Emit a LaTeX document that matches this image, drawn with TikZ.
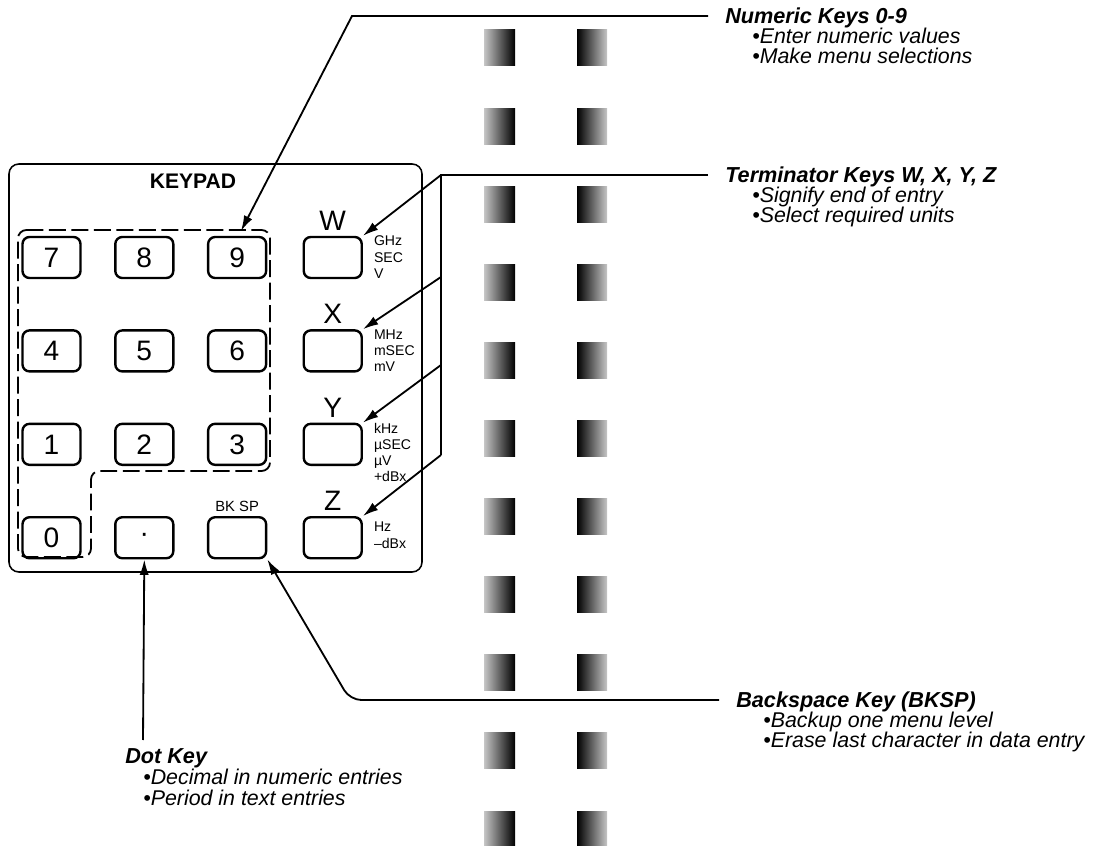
\documentclass[tikz,border=0pt]{standalone}
\usepackage{fontspec}
\setmainfont{Liberation Sans}
\usetikzlibrary{positioning, arrows.meta}

\begin{document}
\begin{tikzpicture}[
  x=0.025cm, y=-0.025cm,
  node distance=1.25cm and 0.81cm,
  keycap/.style={draw, line width=1.7pt, rounded corners=5pt,
    minimum width=1.45cm, minimum height=1.025cm, inner sep=0pt,
    font=\fontsize{20}{20}\selectfont},
  keyletter/.style={inner sep=0pt, font=\fontsize{20}{20}\selectfont},
  unitstext/.style={anchor=north west, align=left, inner sep=0pt,
    font=\fontsize{10}{11.5}\selectfont},
  headtext/.style={anchor=west, inner sep=0pt, text height=11pt, text depth=0pt,
    font=\fontsize{15.4}{15.4}\selectfont\bfseries\itshape},
  bullettext/.style={anchor=west, inner sep=0pt, text height=10.5pt, text depth=0pt,
    font=\fontsize{15.2}{15.2}\selectfont\itshape},
  leader/.style={line width=1.3pt},
  pointer/.style={leader, -{Latex[length=11pt, width=6.5pt]}}
]
\useasboundingbox (0,0) rectangle (1101,846);

% keypad frame
\draw[line width=1.1pt, rounded corners=7pt] (9,164) rectangle (422,572);
\node[inner sep=0pt, font=\fontsize{15}{15}\selectfont\bfseries] (keypadtitle) at (193,181) {KEYPAD};

% keys
\node[keycap] (k7) at (51.5,257.5) {7};
\node[keycap] (k8) [right=of k7] {8};
\node[keycap] (k9) [right=of k8] {9};
\node[keycap] (kW) [right=0.88cm of k9] {};

\node[keycap] (k4) [below=of k7] {4};
\node[keycap] (k5) [below=of k8] {5};
\node[keycap] (k6) [below=of k9] {6};
\node[keycap] (kX) [below=of kW] {};

\node[keycap] (k1) [below=of k4] {1};
\node[keycap] (k2) [below=of k5] {2};
\node[keycap] (k3) [below=of k6] {3};
\node[keycap] (kY) [below=of kX] {};

\node[keycap] (k0) [below=of k1] {0};
\node[keycap] (kdot) [below=of k2] {\textperiodcentered};
\node[keycap] (kbksp) [below=of k3] {};
\node[keycap] (kZ) [below=of kY] {};

\node[inner sep=0pt, font=\fontsize{10.5}{10.5}\selectfont, above=0.1cm of kbksp] (bklabel) {BK SP};

\foreach \k in {W,X,Y,Z}
  \node[keyletter, above=0.13cm of k\k] (l\k) {\k};

\node[unitstext] (uW) at ([xshift=0.27cm]kW.north east) {GHz\\SEC\\V};
\node[unitstext] (uX) at ([xshift=0.27cm]kX.north east) {MHz\\mSEC\\mV};
\node[unitstext] (uY) at ([xshift=0.27cm]kY.north east) {kHz\\µSEC\\µV\\+dBx};
\node[unitstext] (uZ) at ([xshift=0.27cm, yshift=-0.15cm]kZ.north east) {Hz\\–dBx};

% numeric group outline
\draw[line width=1.3pt, dash pattern=on 12pt off 4pt, rounded corners=6pt]
  (18,230) -- (270,230) -- (270,471) -- (91,471) -- (91,557) -- (18,557) -- cycle;

% display blobs
\foreach \i in {0,...,10} {
  \fill[left color=gray!45, right color=black] (484,{30+78.1*\i}) rectangle (515,{66+78.1*\i});
  \fill[left color=black, right color=gray!45] (577,{30+78.1*\i}) rectangle (607,{66+78.1*\i});
}

% numeric keys callout
\node[headtext] (numhead) at (725,16) {Numeric Keys 0-9};
\node[bullettext] (numa) at (752,36) {•Enter numeric values};
\node[bullettext] (numb) at (752,56) {•Make menu selections};
\coordinate (numcorner) at (352,16);
\coordinate (numtip) at (241,231);
\draw[pointer, shorten <=0.42cm] (numhead.west) -- (numcorner) -- (numtip);

% terminator keys callout
\node[headtext] (termhead) at (725,175) {Terminator Keys W, X, Y, Z};
\node[bullettext] (terma) at (752,195) {•Signify end of entry};
\node[bullettext] (termb) at (752,215) {•Select required units};
\coordinate (termcorner) at (441,175);
\foreach \k/\y in {X/277, Y/365, Z/455}
  \coordinate (t\k) at (441,\y);
\draw[leader, shorten <=0.42cm] (termhead.west) -- (termcorner) -- (tZ);
\draw[pointer] (termcorner) -- (kW.north east);
\foreach \k in {X,Y,Z}
  \draw[pointer] (t\k) -- (k\k.north east);

% dot key callout
\coordinate (dotfoot) at (143,740);
\draw[pointer] (dotfoot) -- (kdot.south);
\node[headtext] (dothead) at (125,756) {Dot Key};
\node[bullettext] (dota) at (143,777) {•Decimal in numeric entries};
\node[bullettext] (dotb) at (143,798) {•Period in text entries};

% backspace key callout
\node[headtext] (bkhead) at (736,700) {Backspace Key (BKSP)};
\node[bullettext] (bka) at (763,720) {•Backup one menu level};
\node[bullettext] (bkb) at (763,740) {•Erase last character in data entry};
\coordinate (bkbend) at (350,700);
\draw[pointer, shorten <=0.42cm, rounded corners=8pt] (bkhead.west) -- (bkbend) -- (kbksp.south east);
\end{tikzpicture}
\end{document}
